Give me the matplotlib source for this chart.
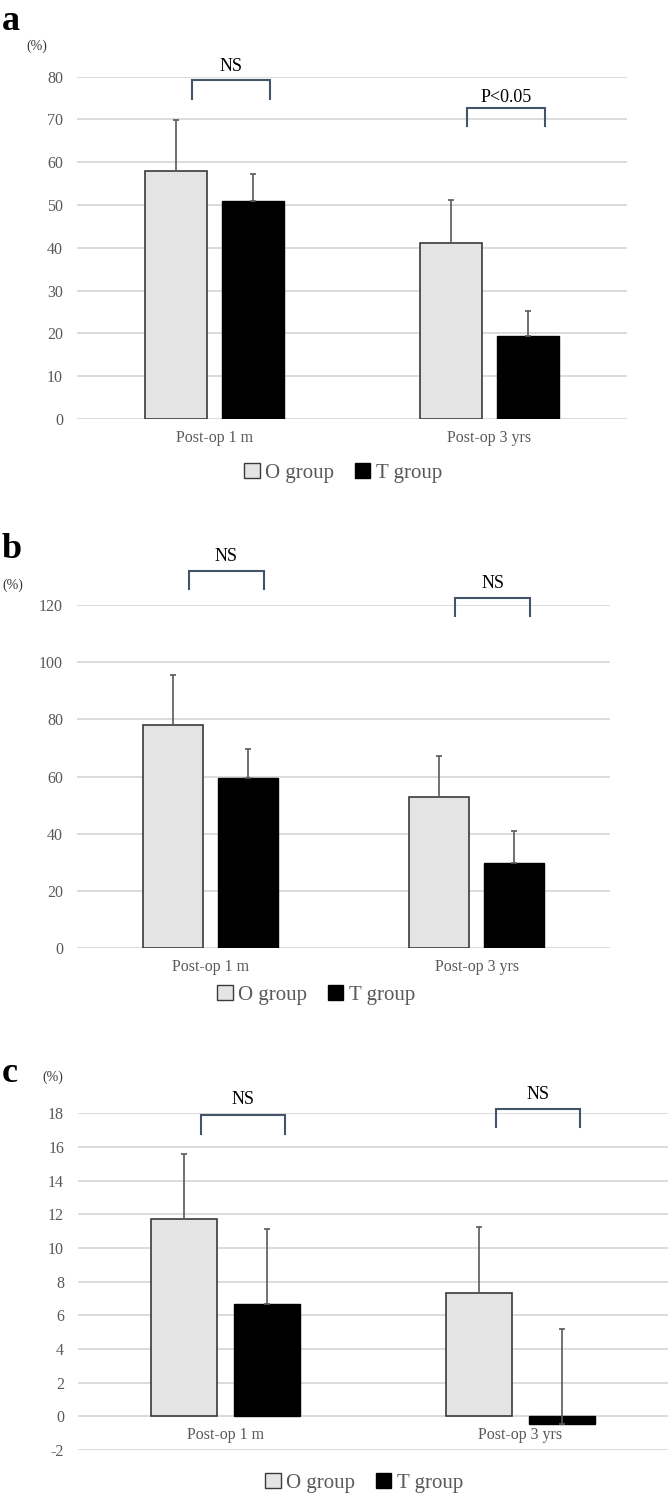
import matplotlib
matplotlib.use("Agg")
import matplotlib.pyplot as plt
from matplotlib.patches import Patch
import numpy as np

plt.rcParams['font.family'] = ['Liberation Serif', 'DejaVu Serif']

categories = ["Post-op 1 m", "Post-op 3 yrs"]
groups = ["O group", "T group"]

# Panel a
a_O = [57.9, 41.2]
a_T = [50.9, 19.5]
a_O_err = [11.9, 9.9]
a_T_err = [6.3, 5.7]
a_ticks = [0, 10, 20, 30, 40, 50, 60, 70, 80]
a_sig = ["NS", "P<0.05"]

# Panel b
b_O = [78.0, 52.8]
b_T = [59.4, 29.9]
b_O_err = [17.4, 14.4]
b_T_err = [10.3, 11.1]
b_ticks = [0, 20, 40, 60, 80, 100, 120]
b_sig = ["NS", "NS"]

# Panel c
c_O = [11.73, 7.34]
c_T = [6.68, -0.48]
c_O_err = [3.87, 3.93]
c_T_err = [4.42, 5.64]
c_ticks = [-2, 0, 2, 4, 6, 8, 10, 12, 14, 16, 18]
c_sig = ["NS", "NS"]

W, H = 668, 1494
fig = plt.figure(figsize=(W / 100, H / 100), dpi=100)

O_COLOR = "#e4e4e4"
T_COLOR = "#000000"
GRID = "#d9d9d9"
TXT = "#595959"
BRK = "#44546a"

def px_rect(x0, x1, ytop, ybot):
    return [x0 / W, 1 - ybot / H, (x1 - x0) / W, (ybot - ytop) / H]

def panel(rect, O, T, Oerr, Terr, ticks, sig, brackets, letter, pct_pos, legend_pos):
    ax = fig.add_axes(rect)
    x = np.arange(len(categories))
    bw = 0.225
    off = 0.1415
    ax.bar(x - off, O, bw, color=O_COLOR, edgecolor="#3a3a3a", linewidth=1.2, zorder=3)
    ax.bar(x + off, T, bw, color=T_COLOR, edgecolor="#000000", linewidth=1.0, zorder=3)
    ekw = dict(fmt="none", ecolor=TXT, elinewidth=1.2, capsize=2.2, capthick=1.2, zorder=4)
    ax.errorbar(x - off, O, yerr=[np.zeros(len(O)), Oerr], **ekw)
    ax.errorbar(x + off, T, yerr=[np.zeros(len(T)), Terr], **ekw)
    ax.set_xlim(-0.5, len(categories) - 0.5)
    ax.set_ylim(ticks[0], ticks[-1])
    ax.set_yticks(ticks)
    ax.set_yticklabels([str(t) for t in ticks], color=TXT, fontsize=11.5)
    ax.tick_params(axis="y", length=0, pad=10)
    ax.set_xticks([])
    for s in ax.spines.values():
        s.set_visible(False)
    for t in ticks:
        ax.axhline(t, color=GRID, linewidth=1.3, zorder=1)
    for i, c in enumerate(categories):
        ax.annotate(c, (x[i], 0), xytext=(0, -19), textcoords="offset pixels",
                    ha="center", va="center", color=TXT, fontsize=11.5, annotation_clip=False)
    for i, (s, (top, leg, ty)) in enumerate(zip(sig, brackets)):
        xl = x[i] - off + 0.06
        xr = x[i] + off + 0.06
        ax.plot([xl, xl, xr, xr], [leg, top, top, leg], color=BRK, lw=1.5, clip_on=False, zorder=5,
                solid_joinstyle="miter")
        ax.text((xl + xr) / 2, ty, s, ha="center", va="center", fontsize=13, color="black",
                clip_on=False)
    fig.text(letter[0] / W, 1 - letter[1] / H, letter[2], fontsize=26, fontweight="bold",
             ha="left", va="center")
    fig.text(pct_pos[0] / W, 1 - pct_pos[1] / H, "(%)", fontsize=10, color="#333333",
             ha="center", va="center")
    handles = [Patch(facecolor=O_COLOR, edgecolor="#3a3a3a", linewidth=1.0),
               Patch(facecolor=T_COLOR, edgecolor="#000000", linewidth=1.0)]
    fig.legend(handles, groups, loc="center", bbox_to_anchor=(legend_pos[0] / W, 1 - legend_pos[1] / H),
               ncol=2, frameon=False, fontsize=15, handlelength=0.75, handleheight=0.75,
               handletextpad=0.25, columnspacing=1.0, labelcolor=TXT)
    return ax

# Panel a
panel(px_rect(77, 627, 76.7, 419), a_O, a_T, a_O_err, a_T_err, a_ticks, a_sig,
      [(79.2, 74.7, 82.4), (72.8, 68.5, 75.1)], (2, 22, "a"), (37, 46), (343, 473))

# Panel b
panel(px_rect(77, 610, 605, 948.3), b_O, b_T, b_O_err, b_T_err, b_ticks, b_sig,
      [(132.0, 125.5, 137.1), (122.5, 116.3, 127.6)], (2, 550, "b"), (13, 585), (316, 995))

# Panel c
panel(px_rect(78, 668, 1113.3, 1450), c_O, c_T, c_O_err, c_T_err, c_ticks, c_sig,
      [(17.9, 16.8, 18.8), (18.26, 17.18, 19.1)], (2, 1073, "c"), (53, 1077), (364, 1483))

fig.savefig("out.png", dpi=100, facecolor="white")
